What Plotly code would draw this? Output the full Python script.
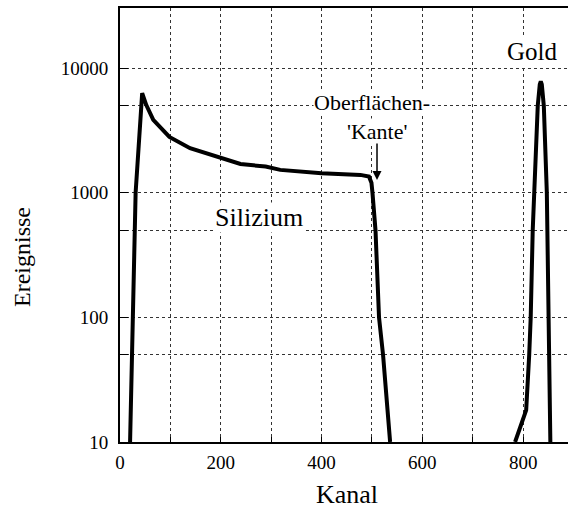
import plotly.graph_objects as go

# Silicon spectrum (channel, counts)
si_channel = [20, 26, 29, 31, 44, 52, 66, 98, 139, 201, 239, 289, 318, 400, 477, 494, 499, 501, 507, 514, 522, 536]
si_counts = [10, 100, 400, 1000, 6300, 5070, 3850, 2800, 2275, 1890, 1700, 1620, 1525, 1435, 1390, 1350, 1200, 1000, 500, 100, 50, 10]

# Gold peak (channel, counts)
au_channel = [784, 806, 812, 815, 819, 822, 829, 833, 835, 837, 841, 847, 848, 850, 851, 854]
au_counts = [10, 18, 50, 100, 500, 1000, 5000, 7400, 7800, 7400, 5000, 1000, 500, 100, 50, 10]

x_ticks = [0, 100, 200, 300, 400, 500, 600, 700, 800]
x_labels = ["0", "", "200", "", "400", "", "600", "", "800"]
y_ticks = [10, 50, 100, 500, 1000, 5000, 10000]
y_labels = ["10", "", "100", "", "1000", "", "10000"]

FONT = "Liberation Serif"

fig = go.Figure()
fig.add_trace(go.Scatter(x=si_channel, y=si_counts, mode="lines",
                         line=dict(color="black", width=4), showlegend=False))
fig.add_trace(go.Scatter(x=au_channel, y=au_counts, mode="lines",
                         line=dict(color="black", width=4), showlegend=False))

fig.update_layout(
    width=568, height=510,
    margin=dict(l=120, r=0, t=8, b=68),
    paper_bgcolor="white", plot_bgcolor="white",
    font=dict(family=FONT, color="black"),
    xaxis=dict(range=[0, 889], tickvals=x_ticks, ticktext=x_labels,
               showgrid=True, gridcolor="#333", griddash="dot", gridwidth=1,
               showline=True, linecolor="black", linewidth=2, mirror=True,
               ticks="inside", ticklen=5, tickcolor="black",
               tickfont=dict(size=19, family=FONT), zeroline=False,
               ticklabelstandoff=2),
    yaxis=dict(type="log", range=[1, 4.482], tickvals=y_ticks, ticktext=y_labels,
               showgrid=True, gridcolor="#333", griddash="dot", gridwidth=1,
               showline=True, linecolor="black", linewidth=2,
               ticks="inside", ticklen=8, tickcolor="black",
               tickfont=dict(size=19, family=FONT), zeroline=False,
               ticklabelstandoff=6),
)

ann = [
    dict(text="Gold", x=819, y=4.131, size=25),
    dict(text="Oberflächen-", x=500, y=3.721, size=22),
    dict(text="'Kante'", x=510, y=3.488, size=22),
    dict(text="Silizium", x=276, y=2.798, size=26),
]
for a in ann:
    fig.add_annotation(text=a["text"], x=a["x"], y=a["y"], xref="x", yref="y",
                       showarrow=False, font=dict(size=a["size"], family=FONT, color="black"),
                       bgcolor="white", borderpad=0)

# arrow pointing to the surface edge
fig.add_annotation(text="", x=510, y=3.103, xref="x", yref="y", ax=0, ay=-38,
                   showarrow=True, arrowhead=2, arrowsize=1.2, arrowwidth=1.5,
                   arrowcolor="black")

fig.add_annotation(text="Kanal", x=(347 - 120) / 448, y=-68 / 434, xref="paper", yref="paper",
                   showarrow=False, font=dict(size=26, family=FONT, color="black"),
                   xanchor="center", yanchor="bottom", borderpad=0)
fig.add_annotation(text="Ereignisse", x=(22 - 120) / 448, y=(442 - 257) / 434, xref="paper", yref="paper",
                   showarrow=False, textangle=-90, font=dict(size=24, family=FONT, color="black"),
                   xanchor="center", yanchor="middle")

fig.write_html("out.html")
